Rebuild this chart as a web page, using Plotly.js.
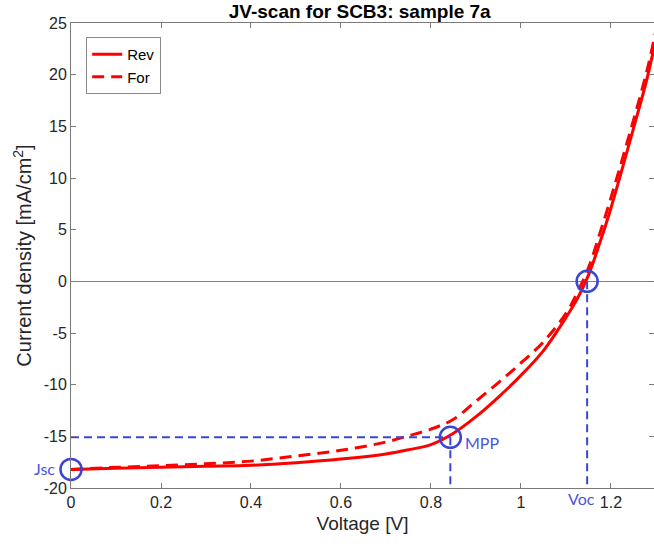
<!DOCTYPE html>
<html>
<head>
<meta charset="utf-8">
<script src="https://cdn.plot.ly/plotly-3.0.1.min.js"></script>
<style>html,body{margin:0;padding:0;background:#fff;}#chart{width:654px;height:549px;}</style>
</head>
<body>
<div id="chart"></div>
<script>
// Reverse scan
const revV = [0, 0.1, 0.2, 0.3, 0.4, 0.5, 0.6, 0.7, 0.75, 0.8, 0.85, 0.9, 0.95, 1.0, 1.05, 1.1, 1.125, 1.15, 1.175, 1.2, 1.25, 1.28, 1.3];
const revJ = [-18.2, -18.1, -18.0, -17.9, -17.8, -17.55, -17.2, -16.7, -16.3, -15.8, -14.7, -13.1, -11.2, -9.1, -6.7, -3.5, -1.7, 0.6, 3.7, 7.1, 14.8, 19.6, 23.5];
// Forward scan
const forV = [0, 0.1, 0.2, 0.3, 0.4, 0.5, 0.6, 0.7, 0.75, 0.8, 0.85, 0.9, 0.95, 1.0, 1.05, 1.1, 1.125, 1.15, 1.175, 1.2, 1.25, 1.28, 1.3];
const forJ = [-18.2, -18.0, -17.85, -17.65, -17.4, -16.9, -16.35, -15.55, -14.95, -14.3, -13.35, -11.6, -9.8, -7.9, -5.85, -3.1, -1.1, 1.3, 4.6, 8.1, 15.6, 20.4, 24.3];
// Key points
const keyNames = ['Jsc', 'MPP', 'Voc'];
const keyV = [0, 0.843, 1.147];
const keyJ = [-18.2, -15.1, 0];
const xTicks = [0, 0.2, 0.4, 0.6, 0.8, 1, 1.2];
const yTicks = [-20, -15, -10, -5, 0, 5, 10, 15, 20, 25];

const blue = '#3a46d4';
const blueText = '#4a55d8';
const yMin = -20;

const traces = [
  {x: revV, y: revJ, type: 'scatter', mode: 'lines', name: 'Rev',
   line: {color: '#ff0000', width: 3, shape: 'spline', smoothing: 1}},
  {x: forV, y: forJ, type: 'scatter', mode: 'lines', name: 'For',
   line: {color: '#ff0000', width: 3, dash: '12px,7px', shape: 'spline', smoothing: 1}},
  // MPP guide lines
  {x: [0, keyV[1]], y: [keyJ[1], keyJ[1]], type: 'scatter', mode: 'lines', showlegend: false,
   line: {color: blue, width: 2, dash: '8px,5px'}},
  {x: [keyV[1], keyV[1]], y: [keyJ[1], yMin], type: 'scatter', mode: 'lines', showlegend: false,
   line: {color: blue, width: 2, dash: '8px,5px'}},
  // Voc guide line
  {x: [keyV[2], keyV[2]], y: [keyJ[2], yMin], type: 'scatter', mode: 'lines', showlegend: false,
   line: {color: blue, width: 2, dash: '8px,5px'}},
  // circles
  {x: keyV, y: keyJ, type: 'scatter', mode: 'markers', showlegend: false, cliponaxis: false,
   marker: {symbol: 'circle-open', size: 21, color: blue, line: {width: 2.5, color: blue}}}
];

const annFont = {family: 'Lato, "Open Sans", sans-serif', size: 16, color: blueText};
const layout = {
  width: 654, height: 549,
  margin: {l: 71, r: 0, t: 23, b: 61},
  paper_bgcolor: '#fff', plot_bgcolor: '#fff',
  font: {family: '"Liberation Sans", Arial, sans-serif', size: 16, color: '#262626'},
  title: {text: '<b>JV-scan for SCB3: sample 7a</b>', x: 0.55, xanchor: 'center', y: 0.979, yanchor: 'middle',
          font: {family: '"Liberation Sans", Arial, sans-serif', size: 19, color: '#000'}},
  xaxis: {range: [0, 1.2956], tickvals: xTicks, ticktext: xTicks.map(String),
          ticks: 'inside', ticklen: 5, tickcolor: '#7a7a7a', showline: true, linecolor: '#7a7a7a', linewidth: 1,
          mirror: 'ticks', showgrid: false, zeroline: false,
          title: {text: 'Voltage [V]', font: {size: 19, color: '#262626'}, standoff: 6}},
  yaxis: {range: [-20, 25], tickvals: yTicks, ticktext: yTicks.map(String),
          ticks: 'inside', ticklen: 5, tickcolor: '#7a7a7a', showline: true, linecolor: '#7a7a7a', linewidth: 1,
          mirror: 'ticks', showgrid: false, zeroline: true, zerolinecolor: '#808080', zerolinewidth: 1.5,
          title: {text: 'Current density [mA/cm<sup>2</sup>]', font: {size: 20, color: '#262626'}, standoff: 6}},
  legend: {x: 0.026, y: 0.97, xanchor: 'left', yanchor: 'top', bgcolor: '#fff',
           bordercolor: '#8a8a8a', borderwidth: 1, font: {size: 15, color: '#000'},
           itemwidth: 30, entrywidth: 85, entrywidthmode: 'pixels', tracegroupgap: 0},
  annotations: [
    {x: keyV[0], y: keyJ[0], xref: 'x', yref: 'y', text: keyNames[0], showarrow: false,
     xanchor: 'right', yanchor: 'middle', xshift: -14, yshift: 1, font: annFont},
    {x: keyV[1], y: keyJ[1], xref: 'x', yref: 'y', text: keyNames[1], showarrow: false,
     xanchor: 'left', yanchor: 'middle', xshift: 13, yshift: -5, font: annFont},
    {x: keyV[2], y: yMin, xref: 'x', yref: 'y', text: keyNames[2], showarrow: false,
     xanchor: 'center', yanchor: 'top', xshift: -6, yshift: 1, font: annFont}
  ],
  showlegend: true
};

Plotly.newPlot('chart', traces, layout, {displayModeBar: false, staticPlot: true});
</script>
</body>
</html>
